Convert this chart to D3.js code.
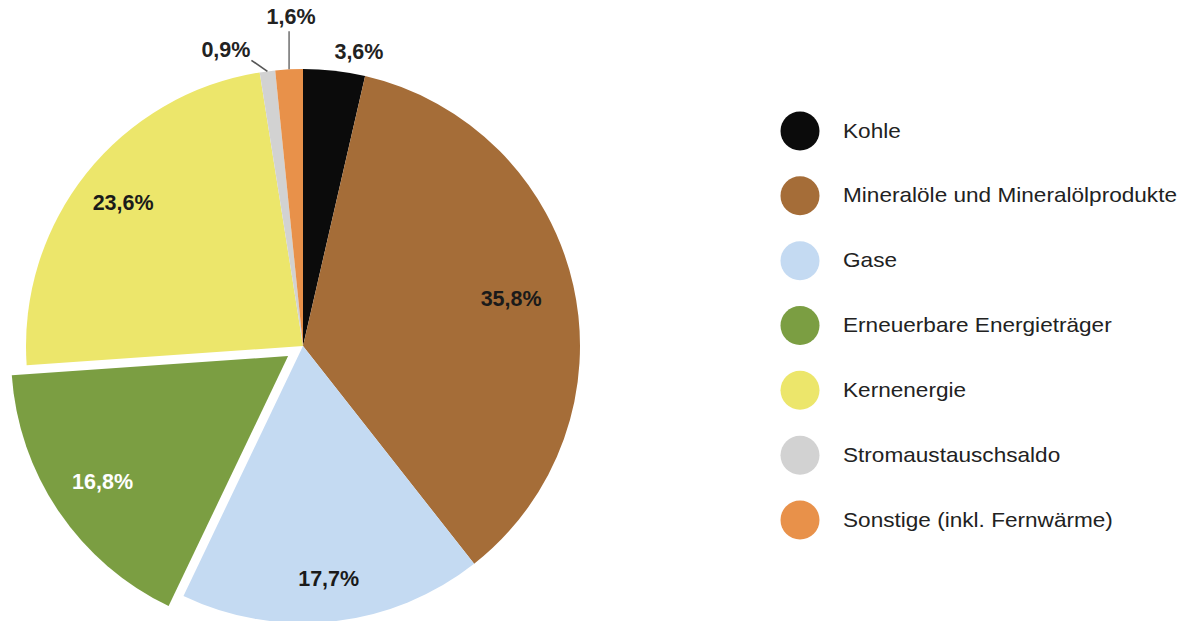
<!DOCTYPE html>
<html>
<head>
<meta charset="utf-8">
<script src="https://cdn.jsdelivr.net/npm/d3@7/dist/d3.min.js"></script>
<style>
  html, body { margin: 0; padding: 0; background: #fff; }
  svg { display: block; }
  text { font-family: "Liberation Sans", Arial, Helvetica, sans-serif; }
</style>
</head>
<body>
<svg id="chart" width="1183" height="621"></svg>
<script>
// Primärenergieverbrauch nach Energieträgern (Anteile in %)
const categories = [
  "Kohle",
  "Mineralöle und Mineralölprodukte",
  "Gase",
  "Erneuerbare Energieträger",
  "Kernenergie",
  "Stromaustauschsaldo",
  "Sonstige (inkl. Fernwärme)"
];
const shares = [3.6, 35.8, 17.7, 16.8, 23.6, 0.9, 1.6];
const colors = ["#0b0b0b", "#a56d38", "#c4daf2", "#7b9e42", "#ece66b", "#d2d2d2", "#e8914a"];
const labelColors = ["#222", "#1a1a1a", "#1a1a1a", "#ffffff", "#1a1a1a", "#222", "#222"];
const explodedIndex = 3;

const fmt = v => d3.format(".1f")(v).replace(".", ",") + "%";

const svg = d3.select("#chart");
const cx = 303, cy = 346, R = 277;
const labelSize = 21.5;

const pie = d3.pie().sort(null).value(d => d.v);
const data = categories.map((c, i) => ({ c, v: shares[i], i }));
const arcs = pie(data);

const arc = d3.arc().innerRadius(0).outerRadius(R);
const g = svg.append("g").attr("transform", `translate(${cx},${cy})`);

// the renewable slice is pulled out along its bisector
function offsetFor(d) {
  if (d.index !== explodedIndex) return [0, 0];
  const a = (d.startAngle + d.endAngle) / 2;
  const off = 18;
  return [Math.sin(a) * off, -Math.cos(a) * off];
}

g.selectAll("path.slice")
  .data(arcs)
  .join("path")
  .attr("class", "slice")
  .attr("d", arc)
  .attr("fill", d => colors[d.index])
  .attr("transform", d => { const o = offsetFor(d); return `translate(${o[0]},${o[1]})`; });

// inner labels for the larger slices
const innerRatio = { 1: 0.77, 2: 0.845, 3: 0.81, 4: 0.83 };
g.selectAll("text.inner")
  .data(arcs.filter(d => innerRatio[d.index] !== undefined))
  .join("text")
  .attr("class", "inner")
  .attr("text-anchor", "middle")
  .attr("dominant-baseline", "central")
  .attr("font-size", labelSize)
  .attr("font-weight", "bold")
  .attr("fill", d => labelColors[d.index])
  .attr("x", d => { const a = (d.startAngle + d.endAngle) / 2; return offsetFor(d)[0] + Math.sin(a) * R * innerRatio[d.index]; })
  .attr("y", d => { const a = (d.startAngle + d.endAngle) / 2; return offsetFor(d)[1] - Math.cos(a) * R * innerRatio[d.index]; })
  .text(d => fmt(d.data.v));

// outside labels for the small slices
const small = arcs.filter(d => innerRatio[d.index] === undefined);
small.forEach(d => {
  const a = (d.startAngle + d.endAngle) / 2;
  const px = Math.sin(a), py = -Math.cos(a);
  let lx, ly, anchor = "middle";
  if (d.index === 0) {
    lx = px * R * 1.07 ; ly = py * R * 1.07;
    anchor = "start"; lx -= 2;
  } else if (d.index === 6) {
    const x0 = px * R, y0 = py * R;
    g.append("line").attr("x1", x0).attr("y1", y0).attr("x2", x0).attr("y2", y0 - 38)
      .attr("stroke", "#777").attr("stroke-width", 1.6);
    lx = x0 + 2; ly = y0 - 52;
  } else {
    const x0 = px * R, y0 = py * R;
    const x1 = x0 - 16, y1 = y0 - 11;
    g.append("line").attr("x1", x0).attr("y1", y0).attr("x2", x1).attr("y2", y1)
      .attr("stroke", "#555").attr("stroke-width", 1.6);
    lx = x1 - 1; ly = y1 - 10;
    anchor = "end";
  }
  g.append("text")
    .attr("x", lx).attr("y", ly)
    .attr("text-anchor", anchor)
    .attr("dominant-baseline", "central")
    .attr("font-size", labelSize)
    .attr("font-weight", "bold")
    .attr("fill", labelColors[d.index])
    .text(fmt(d.data.v));
});

// legend
const legendY = d3.scalePoint().domain(categories).range([131, 520]);
const legend = svg.append("g");
const items = legend.selectAll("g.item").data(categories).join("g")
  .attr("class", "item")
  .attr("transform", d => `translate(800,${legendY(d)})`);
items.append("circle").attr("r", 19.5).attr("fill", (d, i) => colors[i]);
items.append("text")
  .attr("transform", "translate(43,0) scale(1.13,1)")
  .attr("dominant-baseline", "central")
  .attr("font-size", 20)
  .attr("fill", "#222")
  .text(d => d);
</script>
</body>
</html>
